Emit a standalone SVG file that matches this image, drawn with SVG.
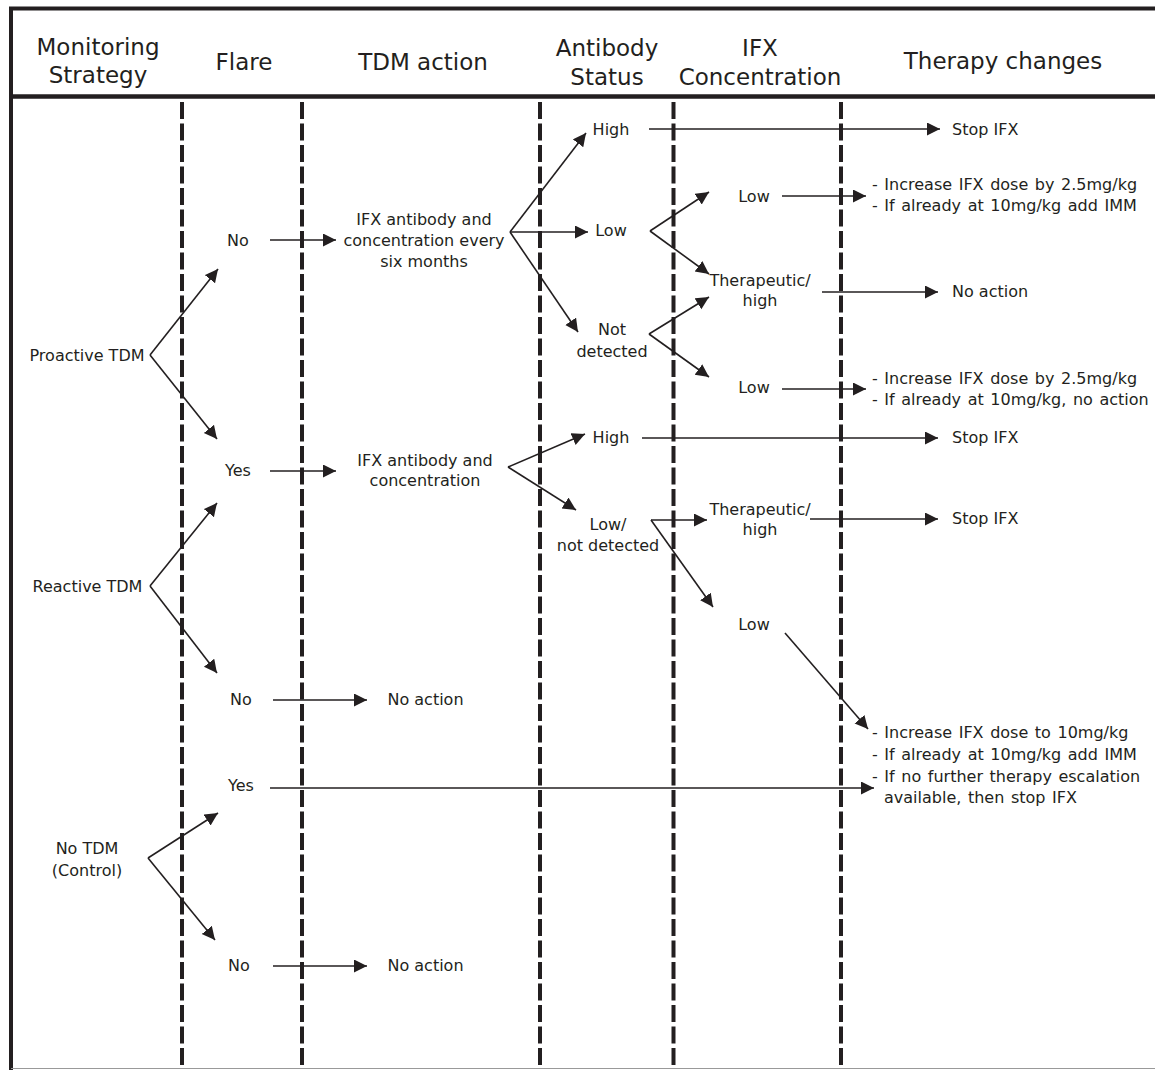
<svg xmlns="http://www.w3.org/2000/svg" width="1155" height="1070" viewBox="0 0 1155 1070">
<defs>
<marker id="ah" markerUnits="userSpaceOnUse" markerWidth="14" markerHeight="14" refX="13" refY="6.5" orient="auto">
<path d="M0,0 L13,6.5 L0,13 z" fill="#231f20"/>
</marker>
<style>
text{font-family:"DejaVu Sans","Verdana",sans-serif;fill:#231f20}
.h{font-size:23px;text-anchor:middle}
.t{font-size:16px;text-anchor:middle}
.l{font-size:16px;text-anchor:start}
.b{font-size:16px;text-anchor:start;word-spacing:1.5px}
.c{fill:none;stroke:#231f20;stroke-width:1.6}
.a{fill:none;stroke:#231f20;stroke-width:1.6;marker-end:url(#ah)}
.d{stroke:#231f20;stroke-width:4;stroke-dasharray:17 4.5}
</style>
</defs>
<rect width="1155" height="1070" fill="#fff"/>
<g id="frame">
<line x1="9" y1="8.5" x2="1155" y2="8.5" stroke="#231f20" stroke-width="4"/>
<line x1="11" y1="8.5" x2="11" y2="1070" stroke="#231f20" stroke-width="4"/>
<line x1="11" y1="96.5" x2="1155" y2="96.5" stroke="#231f20" stroke-width="4.5"/>
<line x1="11" y1="1068.5" x2="1155" y2="1068.5" stroke="#999" stroke-width="1"/>
<line class="d" x1="182" y1="102" x2="182" y2="1068"/>
<line class="d" x1="302" y1="102" x2="302" y2="1068"/>
<line class="d" x1="540" y1="102" x2="540" y2="1068"/>
<line class="d" x1="673.5" y1="102" x2="673.5" y2="1068"/>
<line class="d" x1="841" y1="102" x2="841" y2="1068"/>
</g>
<g id="headers">
<text class="h" x="98" y="55">Monitoring</text>
<text class="h" x="98" y="83">Strategy</text>
<text class="h" x="244" y="70">Flare</text>
<text class="h" x="423" y="70">TDM action</text>
<text class="h" x="607" y="56">Antibody</text>
<text class="h" x="607" y="85">Status</text>
<text class="h" x="760" y="56">IFX</text>
<text class="h" x="760" y="85">Concentration</text>
<text class="h" x="1003" y="69">Therapy changes</text>
</g>
<g id="connectors">
<path class="a" d="M150,355 L218,269"/>
<path class="a" d="M150,355 L217,439"/>
<path class="a" d="M270,240 L336,240"/>
<path class="a" d="M510,232 L586,133"/>
<path class="a" d="M510,232 L588,232"/>
<path class="a" d="M510,232 L578,332"/>
<path class="a" d="M649,129 L940,129"/>
<path class="a" d="M650,231 L709,192"/>
<path class="a" d="M650,231 L709,274"/>
<path class="a" d="M782,196 L866,196"/>
<path class="a" d="M822,292 L938,292"/>
<path class="a" d="M649,334 L709,297"/>
<path class="a" d="M649,334 L709,377"/>
<path class="a" d="M782,389 L866,389"/>
<path class="a" d="M270,471 L336,471"/>
<path class="a" d="M508,467 L585,434"/>
<path class="a" d="M508,467 L576,510"/>
<path class="a" d="M642,438 L938,438"/>
<path class="a" d="M651,520 L707,520"/>
<path class="a" d="M651,520 L713,607"/>
<path class="a" d="M810,519 L938,519"/>
<path class="a" d="M785,633 L868,729"/>
<path class="a" d="M150,586 L217,503"/>
<path class="a" d="M150,586 L217,673"/>
<path class="a" d="M273,700 L367,700"/>
<path class="a" d="M148,858 L218,813"/>
<path class="a" d="M148,858 L215,940"/>
<path class="a" d="M270,788 L874,788"/>
<path class="a" d="M273,966 L367,966"/>
</g>
<g id="n-proactive"><text class="t" x="87" y="361">Proactive TDM</text></g>
<g id="n-reactive"><text class="t" x="87.5" y="592">Reactive TDM</text></g>
<g id="n-notdm"><text class="t" x="87" y="854">No TDM</text><text class="t" x="87" y="876">(Control)</text></g>
<g id="n-no1"><text class="t" x="238" y="246">No</text></g>
<g id="n-yes1"><text class="t" x="238" y="476">Yes</text></g>
<g id="n-no2"><text class="t" x="241" y="705">No</text></g>
<g id="n-yes2"><text class="t" x="241" y="791">Yes</text></g>
<g id="n-no3"><text class="t" x="239" y="971">No</text></g>
<g id="n-tdm1"><text class="t" x="424" y="225">IFX antibody and</text><text class="t" x="424" y="246">concentration every</text><text class="t" x="424" y="267">six months</text></g>
<g id="n-tdm2"><text class="t" x="425" y="466">IFX antibody and</text><text class="t" x="425" y="486">concentration</text></g>
<g id="n-noaction1"><text class="t" x="425.5" y="705">No action</text></g>
<g id="n-noaction2"><text class="t" x="425.5" y="971">No action</text></g>
<g id="n-high1"><text class="t" x="611" y="135">High</text></g>
<g id="n-low1"><text class="t" x="611" y="236">Low</text></g>
<g id="n-notdet"><text class="t" x="612" y="335">Not</text><text class="t" x="612" y="357">detected</text></g>
<g id="n-high2"><text class="t" x="611" y="443">High</text></g>
<g id="n-lownd"><text class="t" x="608" y="530">Low/</text><text class="t" x="608" y="551">not detected</text></g>
<g id="n-conc-low1"><text class="t" x="754" y="202">Low</text></g>
<g id="n-conc-th1"><text class="t" x="760" y="286">Therapeutic/</text><text class="t" x="760" y="306">high</text></g>
<g id="n-conc-low2"><text class="t" x="754" y="393">Low</text></g>
<g id="n-conc-th2"><text class="t" x="760" y="515">Therapeutic/</text><text class="t" x="760" y="535">high</text></g>
<g id="n-conc-low3"><text class="t" x="754" y="630">Low</text></g>
<g id="n-stop1"><text class="l" x="952" y="135">Stop IFX</text></g>
<g id="n-inc1"><text class="b" x="872" y="190">- Increase IFX dose by 2.5mg/kg</text><text class="b" x="872" y="211">- If already at 10mg/kg add IMM</text></g>
<g id="n-noact3"><text class="l" x="952" y="297">No action</text></g>
<g id="n-inc2"><text class="b" x="872" y="384">- Increase IFX dose by 2.5mg/kg</text><text class="b" x="872" y="405">- If already at 10mg/kg, no action</text></g>
<g id="n-stop2"><text class="l" x="952" y="443">Stop IFX</text></g>
<g id="n-stop3"><text class="l" x="952" y="524">Stop IFX</text></g>
<g id="n-inc3"><text class="b" x="872" y="738">- Increase IFX dose to 10mg/kg</text><text class="b" x="872" y="760">- If already at 10mg/kg add IMM</text><text class="b" x="872" y="782">- If no further therapy escalation</text><text class="b" x="884" y="803">available, then stop IFX</text></g>
</svg>
